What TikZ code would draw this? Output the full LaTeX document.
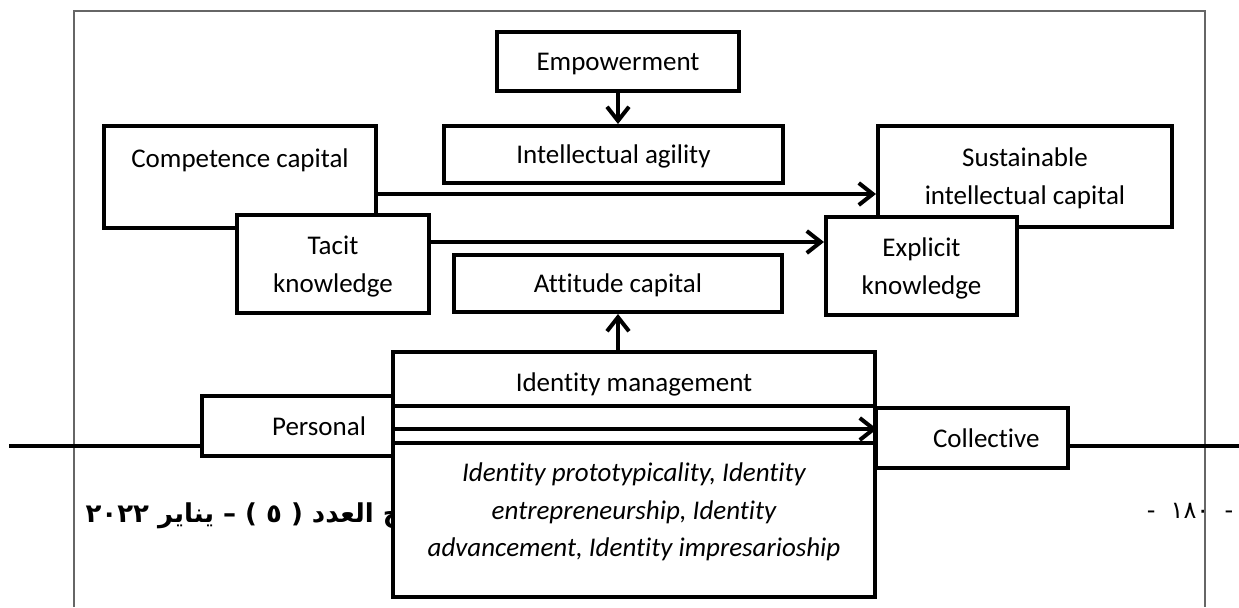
\documentclass[tikz,border=0pt]{standalone}
\usepackage{fontspec}
\setmainfont{Carlito}[Ligatures=CommonOff]
\newfontfamily\arabicfont[Script=Arabic]{DejaVu Sans}
\TeXXeTstate=1
\usetikzlibrary{arrows.meta}

\begin{document}
\begin{tikzpicture}[
    x=0.5pt, y=-0.5pt,
    box/.style={draw=black, line width=2pt, fill=white, align=center, inner sep=0pt,
      text depth=0pt, font=\fontsize{13.5}{19}\selectfont},
    sidebox/.style={box, align=right, text width=68pt, inner xsep=14pt, minimum height=30pt},
    txt/.style={align=center, inner sep=0pt, text depth=0pt, font=\fontsize{13.5}{18.75}\selectfont},
    arr/.style={line width=2pt, -{Straight Barb[length=7pt, width=11pt]}},
    frameline/.style={draw=black!60, line width=0.6pt},
    rule/.style={line width=2pt}
  ]
  \useasboundingbox (0,0) rectangle (1239,607);

  % page frame and rule
  \draw[frameline] (74,607) -- (74,11) -- (1205,11) -- (1205,607);
  \draw[rule] (9,446) -- (1239,446);

  % footer
  \node[anchor=east, inner sep=0pt, font=\arabicfont\bfseries\fontsize{13}{15}\selectfont] (issue) at (402,516)
    {\beginR ج العدد ( ٥ ) – يناير \beginL ٢٠٢٢\endL\endR};
  \node[inner sep=0pt, font=\arabicfont\fontsize{12}{14}\selectfont] (pageno) at (1190,511) {-\ \ ١٨٠\ \ -};

  % upper boxes: name/x/y/width/height (px)/text
  \foreach \name/\x/\y/\w/\h/\txt in {
      emp/618/61.5/242/59/{Empowerment},
      intel/613.5/154.5/339/57/{Intellectual agility},
      comp/240/177/272/102/{Competence capital\\\mbox{}},
      sust/1025/176.5/294/101/{Sustainable\\intellectual capital},
      tac/333/264/192/98/{Tacit\\knowledge},
      expl/921.5/266/191/98/{Explicit\\knowledge},
      att/618/283.5/328/57/{Attitude capital}} {
    \node[box, minimum width=\w*0.5pt, minimum height=\h*0.5pt] (\name) at (\x,\y) {\txt};
  }

  % lower boxes
  \node[sidebox] (pers) at (298,426) {Personal};
  \node[sidebox] (coll) at (971.5,438) {Collective};
  \node[box, minimum width=241pt, minimum height=122.5pt] (idm) at (634,474.5) {};
  \node[txt] (idmtitle) at (634,382) {Identity management};
  \node[txt, font=\fontsize{13.5}{18.75}\selectfont\itshape] (idmdims) at (634,510)
    {Identity prototypicality, Identity\\entrepreneurship, Identity\\advancement, Identity impresarioship};

  % connectors
  \draw[arr] (emp.south) -- (emp.south |- intel.north);
  \draw[arr] (comp.east |- 0,194) -- (sust.west |- 0,194);
  \draw[arr] (tac.east |- 0,242) -- (expl.west |- 0,242);
  \draw[arr] (idm.north -| att.south) -- (att.south);
  \draw[rule] (idm.west |- coll.north) -- (coll.north west);
  \draw[arr] (idm.west |- 0,429) -- (idm.east |- 0,429);
  \draw[rule] (idm.west |- 0,443) -- (idm.east |- 0,443);
\end{tikzpicture}
\end{document}
